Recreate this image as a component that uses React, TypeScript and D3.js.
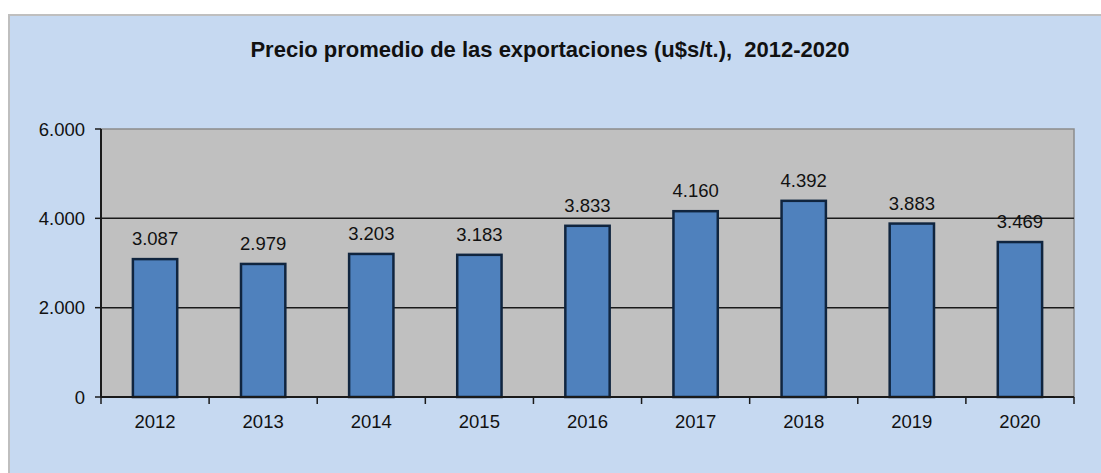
import React, { useEffect, useRef } from 'react';
import * as d3 from 'd3';

const years = ['2012', '2013', '2014', '2015', '2016', '2017', '2018', '2019', '2020'];
const prices = [3087, 2979, 3203, 3183, 3833, 4160, 4392, 3883, 3469];
const yTicks = [0, 2000, 4000, 6000];
const title = 'Precio promedio de las exportaciones (u$s/t.),  2012-2020';

const fmt = (v: number) => d3.format(',')(v).replace(/,/g, '.');

function BarChart() {
  const ref = useRef<SVGSVGElement | null>(null);

  useEffect(() => {
    const svg = d3.select(ref.current);
    svg.selectAll('*').remove();

    const W = 1101, H = 473;
    const margin = { top: 129, right: 27, bottom: 76, left: 101 };
    const width = W - margin.left - margin.right;
    const height = H - margin.top - margin.bottom;
    const font = 'Liberation Sans, Arial, sans-serif';

    // outer chart background
    svg.append('rect')
      .attr('x', 9).attr('y', 15)
      .attr('width', W).attr('height', H)
      .attr('fill', '#c6d9f1')
      .attr('stroke', '#bfbfbf')
      .attr('stroke-width', 2);

    svg.append('text')
      .attr('x', 550).attr('y', 57)
      .attr('text-anchor', 'middle')
      .attr('font-family', font)
      .attr('font-weight', 'bold')
      .attr('font-size', 22)
      .attr('fill', '#111')
      .style('white-space', 'pre')
      .text(title);

    const g = svg.append('g')
      .attr('transform', 'translate(' + margin.left + ',' + margin.top + ')');

    const x = d3.scaleBand().domain(years).range([0, width]).paddingInner(0.59).paddingOuter(0.295);
    const y = d3.scaleLinear().domain([0, 6000]).range([height, 0]);

    g.append('rect')
      .attr('width', width).attr('height', height)
      .attr('fill', '#c0c0c0')
      .attr('stroke', '#8c8c8c')
      .attr('stroke-width', 1.5);

    g.selectAll('.grid')
      .data(yTicks.filter(t => t > 0 && t < 6000))
      .enter().append('line')
      .attr('x1', 0).attr('x2', width)
      .attr('y1', d => y(d)).attr('y2', d => y(d))
      .attr('stroke', '#1a1a1a')
      .attr('stroke-width', 1.5);

    g.selectAll('.bar')
      .data(prices).enter()
      .append('rect')
      .attr('x', (d, i) => x(years[i])!)
      .attr('y', d => y(d))
      .attr('width', x.bandwidth())
      .attr('height', d => height - y(d))
      .attr('fill', '#4f81bd')
      .attr('stroke', '#10253f')
      .attr('stroke-width', 2.5);

    g.selectAll('.lbl')
      .data(prices).enter()
      .append('text')
      .attr('x', (d, i) => x(years[i])! + x.bandwidth() / 2)
      .attr('y', d => y(d) - 14)
      .attr('text-anchor', 'middle')
      .attr('font-family', font)
      .attr('font-size', 18.5)
      .attr('fill', '#111')
      .text(d => fmt(d));

    // y axis
    g.append('line')
      .attr('x1', 0).attr('x2', 0).attr('y1', 0).attr('y2', height)
      .attr('stroke', '#1a1a1a').attr('stroke-width', 2);
    g.selectAll('.ytick')
      .data(yTicks).enter().append('line')
      .attr('x1', -6).attr('x2', 0)
      .attr('y1', d => y(d)).attr('y2', d => y(d))
      .attr('stroke', '#1a1a1a').attr('stroke-width', 1.5);
    g.selectAll('.ylbl')
      .data(yTicks).enter().append('text')
      .attr('x', -16)
      .attr('y', d => y(d))
      .attr('dy', '0.36em')
      .attr('text-anchor', 'end')
      .attr('font-family', font)
      .attr('font-size', 18.5)
      .attr('fill', '#111')
      .text(d => fmt(d));

    // x axis
    const step = x.step();
    g.append('line')
      .attr('x1', 0).attr('x2', width).attr('y1', height).attr('y2', height)
      .attr('stroke', '#1a1a1a').attr('stroke-width', 2);
    g.selectAll('.xtick')
      .data(d3.range(years.length + 1)).enter().append('line')
      .attr('x1', d => d * step).attr('x2', d => d * step)
      .attr('y1', height).attr('y2', height + 7)
      .attr('stroke', '#1a1a1a').attr('stroke-width', 1.5);
    g.selectAll('.xlbl')
      .data(years).enter().append('text')
      .attr('x', d => x(d)! + x.bandwidth() / 2)
      .attr('y', height + 31)
      .attr('text-anchor', 'middle')
      .attr('font-family', font)
      .attr('font-size', 18.5)
      .attr('fill', '#111')
      .text(d => d);
  }, []);

  return <svg ref={ref} width={1101} height={473} style={{ display: 'block' }} />;
}

export default function App() {
  return (
    <div style={{ position: 'absolute', left: 0, top: 0 }}>
      <BarChart />
    </div>
  );
}
